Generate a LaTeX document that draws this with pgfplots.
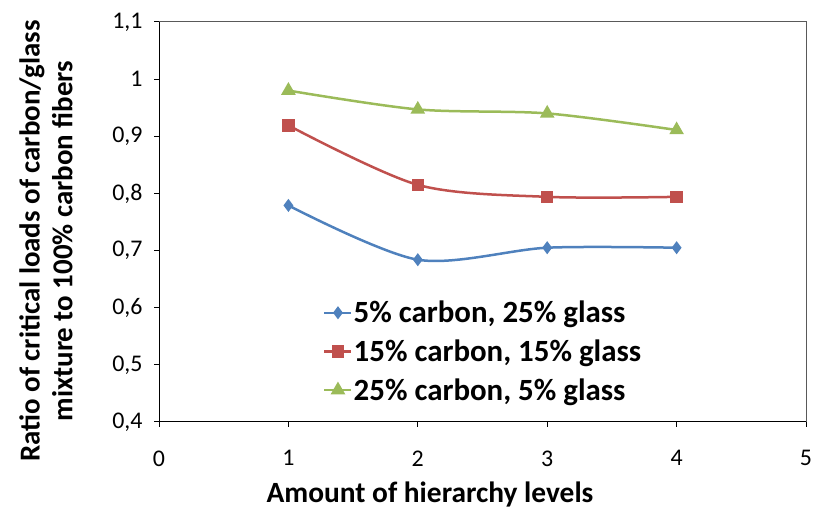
\documentclass[border=0pt]{standalone}
\usepackage{pgfplots}
\pgfplotsset{compat=1.18}
\usepackage{fontspec}
\setmainfont{Carlito}
\definecolor{cblue}{HTML}{4F81BD}
\definecolor{cred}{HTML}{C0504D}
\definecolor{cgreen}{HTML}{9BBB59}
\begin{document}
\begin{tikzpicture}[x=1bp,y=1bp]
\path[use as bounding box] (0,0) rectangle (814,511);
\begin{axis}[
  at={(159bp,89bp)}, anchor=south west,
  scale only axis, width=647bp, height=400bp,
  xmin=0, xmax=5, ymin=0.4, ymax=1.1,
  xtick={0,1,2,3,4,5},
  ytick={0.4,0.5,0.6,0.7,0.8,0.9,1,1.1},
  axis x line*=bottom, axis y line*=left,
  axis line style={black, line width=1bp, -},
  tick align=outside, major tick length=5bp,
  tick style={black, line width=1bp},
  /pgf/number format/use comma,
  /pgf/number format/assume math mode=true,
  tick label style={font=\fontsize{24}{28}\selectfont},
  xticklabel style={yshift=-20bp},
  yticklabel style={xshift=-8bp},
  clip=false,
  legend style={at={(rel axis cs:0.2535,0.305)}, anchor=north west,
    draw=none, fill=none, inner sep=0pt, row sep=13.5bp,
    font=\bfseries\fontsize{31}{34}\selectfont,
    nodes={inner sep=1bp}},
  legend cell align=left,
  legend image code/.code={\draw[#1, mark repeat=2, mark phase=2] plot coordinates {(0bp,0bp) (13.5bp,0bp) (27bp,0bp)};},
]
\addplot[cblue, line width=2.5bp, smooth, mark=diamond*, mark size=4.5bp, mark options={solid, fill=cblue}]
  coordinates {(1,0.779) (2,0.684) (3,0.705) (4,0.705)};
\addlegendentry{5\% carbon, 25\% glass}
\addplot[cred, line width=2.5bp, smooth, mark=square*, mark size=5bp, mark options={solid, fill=cred}]
  coordinates {(1,0.919) (2,0.815) (3,0.794) (4,0.794)};
\addlegendentry{15\% carbon, 15\% glass}
\addplot[cgreen, line width=2.5bp, smooth, mark=triangle*, mark size=6bp, mark options={solid, fill=cgreen}]
  coordinates {(1,0.980) (2,0.947) (3,0.940) (4,0.911)};
\addlegendentry{25\% carbon, 5\% glass}
\draw[gray!70!black, line width=1bp] (rel axis cs:0,1) -- (rel axis cs:1,1) -- (rel axis cs:1,0);
\end{axis}
\node[rotate=90, align=center, font=\bfseries\fontsize{29}{33}\selectfont] at (46,270)
  {Ratio of critical loads of carbon/glass\\mixture to 100\% carbon fibers};
\node[anchor=base, font=\bfseries\fontsize{29.5}{32}\selectfont] at (430,8) {Amount of hierarchy levels};
\end{tikzpicture}
\end{document}
